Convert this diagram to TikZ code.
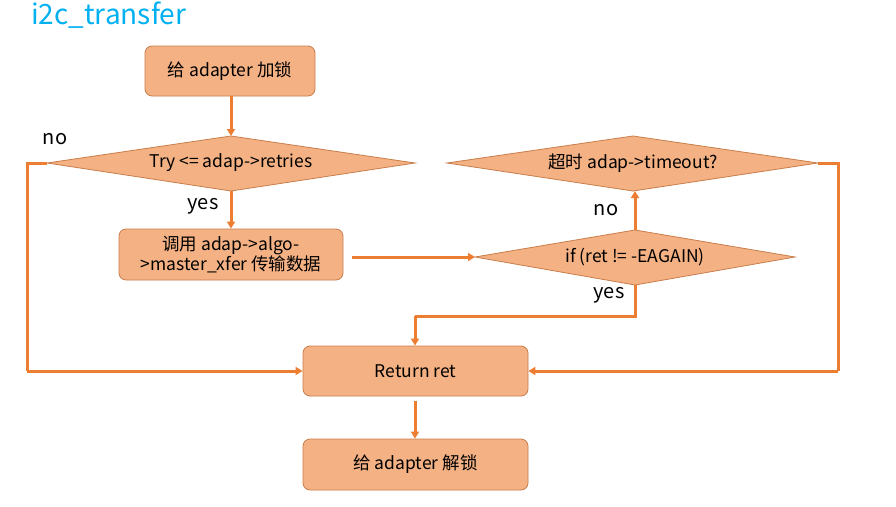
\documentclass[tikz,border=0pt]{standalone}
\usepackage{fontspec}
\setmainfont{Noto Sans CJK SC}
\usetikzlibrary{shapes.geometric,arrows.meta}
\definecolor{boxfill}{RGB}{244,177,131}
\definecolor{boxdraw}{RGB}{200,125,75}
\definecolor{lineor}{RGB}{237,125,49}
\definecolor{titlec}{RGB}{0,176,240}
\begin{document}
\begin{tikzpicture}[x=1pt,y=-1pt,
  txt/.style={font=\fontsize{17.5}{20}\selectfont},
  proc/.style={txt,draw=boxdraw,fill=boxfill,rounded corners=7pt,line width=0.8pt,align=center,inner sep=0pt},
  dec/.style={draw=boxdraw,fill=boxfill,line width=0.8pt},
  conn/.style={draw=lineor,line width=3pt},
  arr/.style={conn,-{Triangle[length=7pt,width=8pt]}},
  lab/.style={font=\fontsize{20}{24}\selectfont}]
\useasboundingbox (0,0) rectangle (896,506);
\node[anchor=west,text=titlec,font=\fontsize{28}{32}\selectfont,inner sep=0pt] (title) at (31,15) {i2c\_transfer};
% boxes
\node[proc,minimum width=170pt,minimum height=50pt] (lock) at (230,71) {给 adapter 加锁};
\draw[dec] (47,163) -- (231,136) -- (415,163) -- (231,191) -- cycle;
\node[txt] (d1) at (231,163) {Try <= adap->retries};
\coordinate (d1l) at (47,163); \coordinate (d1t) at (231,136); \coordinate (d1b) at (231,191);
\node[proc,minimum width=224pt,minimum height=51pt] (xfer) at (231,254.5) {调用 adap->algo-\\>master\_xfer 传输数据};
\draw[dec] (475,257) -- (635,230) -- (795,257) -- (635,285) -- cycle;
\node[txt] (d2) at (635,257) {if (ret != -EAGAIN)};
\coordinate (d2l) at (475,257); \coordinate (d2t) at (635,230); \coordinate (d2b) at (635,285);
\draw[dec] (447,163) -- (633,136) -- (818,163) -- (633,191) -- cycle;
\node[txt] (d3) at (633,163) {超时 adap->timeout?};
\coordinate (d3r) at (818,163); \coordinate (d3b) at (635,191);
\node[proc,minimum width=225pt,minimum height=50pt] (ret) at (415.5,371) {Return ret};
\node[proc,minimum width=225pt,minimum height=51pt] (unlock) at (415.5,464.5) {给 adapter 解锁};
% connectors
\draw[arr] (lock.south -| d1t) -- (d1t);
\draw[arr] (d1b) -- (xfer.north);
\coordinate (xs) at (352,257);
\draw[arr] (xs) -- (d2l);
\draw[arr] (d2t) -- (d3b);
\draw[conn] (d1l) -- (27,163) -- (27,371);
\draw[arr] (27,371) -- (ret.west);
\draw[conn] (d3r) -- (838,163) -- (838,371);
\draw[arr] (838,371) -- (ret.east);
\draw[conn] (d2b) -- (635,316) -- (415,316);
\draw[arr] (415,316) -- (ret.north -| 415,0);
\coordinate (rs) at (415,401);
\draw[arr] (rs) -- (unlock.north -| 415,0);
% labels
\node[lab] (no1) at (55,139) {no};
\node[lab] (yes1) at (203,206) {yes};
\node[lab] (no2) at (606,210) {no};
\node[lab] (yes2) at (609,295) {yes};
\end{tikzpicture}
\end{document}
